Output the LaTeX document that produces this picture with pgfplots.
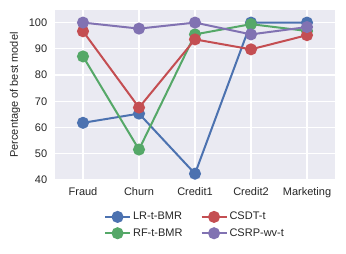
\documentclass[border=0pt]{standalone}
\usepackage{pgfplots}
\pgfplotsset{compat=1.18}
\usepackage{fontspec}
\setmainfont{Liberation Sans}
\definecolor{sbblue}{HTML}{4C72B0}
\definecolor{sbgreen}{HTML}{55A868}
\definecolor{sbred}{HTML}{C44E52}
\definecolor{sbpurple}{HTML}{8172B2}
\definecolor{bgc}{HTML}{EAEAF2}
\definecolor{labc}{HTML}{262626}
\begin{document}
\fontsize{11}{13}\selectfont
\begin{tikzpicture}
\path[use as bounding box] (0,0) rectangle (346pt,254pt);
\begin{axis}[
  at={(55pt,74pt)}, anchor=south west,
  width=280pt, height=170pt, scale only axis,
  xmin=-0.5, xmax=4.5, ymin=40, ymax=104.8,
  axis background/.style={fill=bgc},
  axis line style={draw=none},
  grid=major, grid style={white, line width=1.2pt},
  major tick length=0pt,
  xtick={0,1,2,3,4},
  xticklabels={Fraud,Churn,Credit1,Credit2,Marketing},
  ytick={40,50,60,70,80,90,100},
  tick label style={font=\fontsize{11}{13}\selectfont, text=labc},
  xticklabel style={yshift=-4pt},
  yticklabel style={xshift=-4pt},
  /pgf/number format/assume math mode=true,
  ylabel={Percentage of best model},
  ylabel style={at={(axis description cs:-0.143,0.5)}, anchor=center, font=\fontsize{11}{13}\selectfont, text=labc},
  legend columns=2,
  transpose legend,
  legend cell align=left,
  legend style={draw=none, fill=none, at={(0.5,-0.165)}, anchor=north,
    font=\fontsize{11}{13}\selectfont, text=labc,
    /tikz/every even column/.append style={column sep=16pt},
    row sep=3pt},
  legend image code/.code={\draw[mark repeat=2,mark phase=2] plot coordinates {(0pt,0pt) (12.5pt,0pt) (25pt,0pt)};},
  every axis plot/.append style={line width=2pt, mark=*, mark size=5pt},
]
\addplot[color=sbblue, mark options={fill=sbblue, draw=sbblue}] coordinates {(0,61.8) (1,65.3) (2,42.4) (3,100) (4,100)};
\addlegendentry{LR-t-BMR}
\addplot[color=sbgreen, mark options={fill=sbgreen, draw=sbgreen}] coordinates {(0,87.1) (1,51.6) (2,95.5) (3,99.4) (4,96.8)};
\addlegendentry{RF-t-BMR}
\addplot[color=sbred, mark options={fill=sbred, draw=sbred}] coordinates {(0,96.7) (1,67.6) (2,93.6) (3,89.8) (4,95.2)};
\addlegendentry{CSDT-t}
\addplot[color=sbpurple, mark options={fill=sbpurple, draw=sbpurple}] coordinates {(0,100) (1,97.7) (2,100) (3,95.5) (4,98.3)};
\addlegendentry{CSRP-wv-t}
\end{axis}
\end{tikzpicture}
\end{document}
